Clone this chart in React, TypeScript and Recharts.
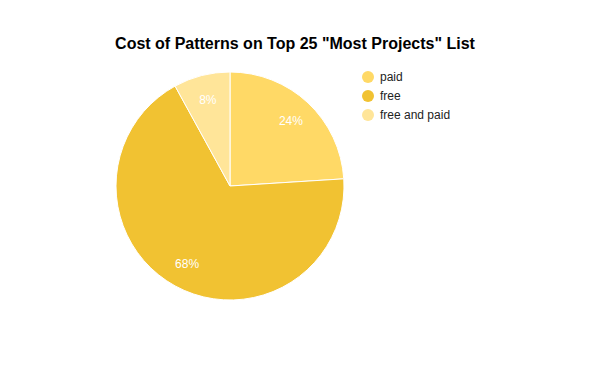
import { PieChart, Pie, Cell } from 'recharts'

const categories = ['paid', 'free', 'free and paid']
const counts = [6, 17, 2]
const colors = ['#FFD966', '#F1C232', '#FFE599']

const data = categories.map((name, i) => ({ name, value: counts[i] }))
const total = counts.reduce((a, b) => a + b, 0)

const RADIAN = Math.PI / 180

function renderLabel(props: any) {
  const { cx, cy, midAngle, value } = props
  const r = 89
  const x = cx + r * Math.cos(-midAngle * RADIAN)
  const y = cy + r * Math.sin(-midAngle * RADIAN)
  return (
    <text
      x={x}
      y={y}
      fill="#ffffff"
      textAnchor="middle"
      dominantBaseline="central"
      fontSize={12}
      fontFamily="Arial, 'Liberation Sans', sans-serif"
    >
      {`${Math.round((value / total) * 100)}%`}
    </text>
  )
}

function LegendList() {
  return (
    <div
      style={{
        position: 'absolute',
        left: 362,
        top: 67,
        fontFamily: "Arial, 'Liberation Sans', sans-serif",
        fontSize: 12,
        color: '#222222',
      }}
    >
      {data.map((d, i) => (
        <div key={d.name} style={{ display: 'flex', alignItems: 'center', height: 19 }}>
          <span
            style={{
              display: 'inline-block',
              width: 12,
              height: 12,
              borderRadius: '50%',
              background: colors[i],
              marginRight: 6,
            }}
          />
          <span>{d.name}</span>
        </div>
      ))}
    </div>
  )
}

export default function App() {
  return (
    <div style={{ position: 'absolute', top: 0, left: 0, width: 600, height: 371, background: '#ffffff' }}>
      <div
        style={{
          position: 'absolute',
          top: 35,
          left: 0,
          width: 590,
          textAlign: 'center',
          fontFamily: "Arial, 'Liberation Sans', sans-serif",
          fontWeight: 'bold',
          fontSize: 16,
          color: '#000000',
        }}
      >
        Cost of Patterns on Top 25 "Most Projects" List
      </div>
      <PieChart width={600} height={371} margin={{ top: 0, right: 0, bottom: 0, left: 0 }}>
        <Pie
          data={data}
          dataKey="value"
          nameKey="name"
          cx={230}
          cy={186}
          outerRadius={114}
          startAngle={90}
          endAngle={-270}
          stroke="#ffffff"
          strokeWidth={1}
          label={renderLabel}
          labelLine={false}
          isAnimationActive={false}
        >
          {data.map((d, i) => (
            <Cell key={d.name} fill={colors[i]} />
          ))}
        </Pie>
      </PieChart>
      <LegendList />
    </div>
  )
}
